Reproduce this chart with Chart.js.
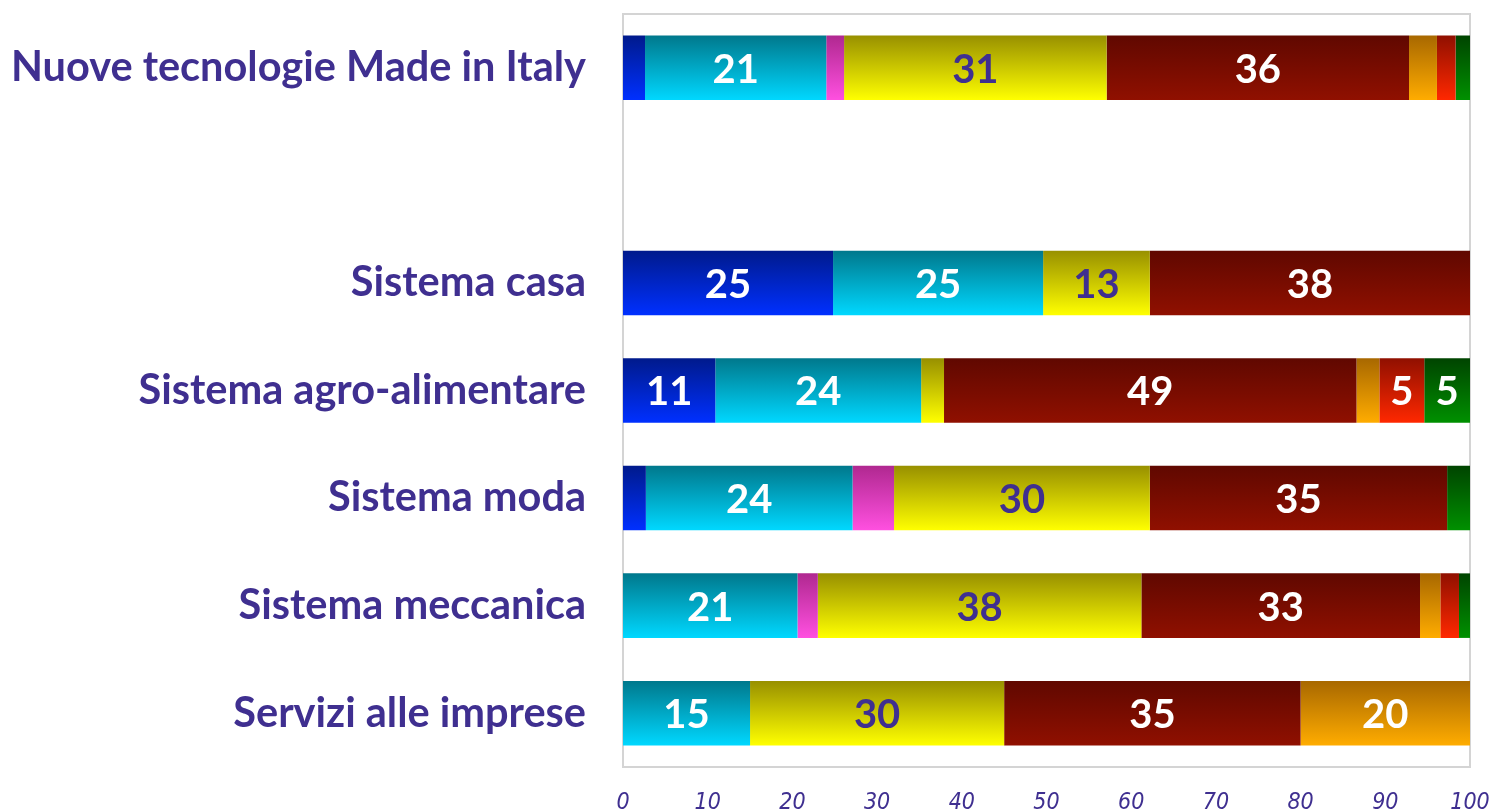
<!DOCTYPE html>
<html>
<head>
<meta charset="utf-8">
<script src="https://cdn.jsdelivr.net/npm/chart.js@4/dist/chart.umd.min.js"></script>
<style>
    html, body { margin: 0; padding: 0; background: #ffffff; }
    #wrap { width: 1494px; height: 812px; }
</style>
</head>
<body>
<div id="wrap"><canvas id="chart" width="1494" height="812"></canvas></div>
<script>
// categories, top to bottom (the empty one is the spacer row)
const categories = [
    "Nuove tecnologie Made in Italy",
    "",
    "Sistema casa",
    "Sistema agro-alimentare",
    "Sistema moda",
    "Sistema meccanica",
    "Servizi alle imprese"
];

// shares (%) per segment, left to right
const blueValues    = [2.6,  null, 24.8, 10.9, 2.7,  0,    0];
const cyanValues    = [21.4, null, 24.8, 24.3, 24.4, 20.6, 15];
const pinkValues    = [2.1,  null, 0,    0,    4.9,  2.4,  0];
const yellowValues  = [31.0, null, 12.6, 2.7,  30.2, 38.2, 30];
const darkRedValues = [35.7, null, 37.8, 48.7, 35.1, 32.9, 35];
const orangeValues  = [3.3,  null, 0,    2.7,  0,    2.4,  20];
const redValues     = [2.2,  null, 0,    5.3,  0,    2.2,  0];
const greenValues   = [1.7,  null, 0,    5.4,  2.7,  1.3,  0];

const xTicks = [0, 10, 20, 30, 40, 50, 60, 70, 80, 90, 100];
const minLabelValue = 5;

const purple = "#3f2f90";

// gradient stops: [top, bottom]
const palette = {
    blue:    ["#001a8c", "#0030ff"],
    cyan:    ["#00788c", "#00d8ff"],
    pink:    ["#b02890", "#ff50e0"],
    yellow:  ["#989000", "#ffff00"],
    darkRed: ["#600800", "#901000"],
    orange:  ["#a86800", "#ffac00"],
    red:     ["#901000", "#ff2800"],
    green:   ["#004400", "#009000"]
};

const barPercentage = 0.6;

function gradientFill(stops) {
    return (ctx) => {
        const chart = ctx.chart;
        const yScale = chart.scales.y;
        if (!chart.chartArea || !yScale || ctx.dataIndex === undefined) return stops[1];
        const slot = (yScale.bottom - yScale.top) / categories.length;
        const yc = yScale.getPixelForValue(ctx.dataIndex);
        const half = slot * barPercentage / 2;
        const g = chart.ctx.createLinearGradient(0, yc - half, 0, yc + half);
        g.addColorStop(0, stops[0]);
        g.addColorStop(1, stops[1]);
        return g;
    };
}

function makeSet(name, values, stops, labelColor) {
    return {
        label: name,
        data: values,
        backgroundColor: gradientFill(stops),
        borderWidth: 0,
        barPercentage: barPercentage,
        categoryPercentage: 1,
        labelColor: labelColor
    };
}

const plotFrame = {
    id: "plotFrame",
    beforeDatasetsDraw(chart) {
        const a = chart.chartArea;
        const c = chart.ctx;
        c.save();
        c.strokeStyle = "#d4d4d4";
        c.lineWidth = 2;
        c.strokeRect(a.left, a.top, a.right - a.left, a.bottom - a.top);
        c.restore();
    }
};

const segmentLabels = {
    id: "segmentLabels",
    afterDatasetsDraw(chart) {
        const c = chart.ctx;
        c.save();
        c.font = "bold 40px Lato";
        c.textAlign = "center";
        c.textBaseline = "middle";
        chart.data.datasets.forEach((ds, i) => {
            const meta = chart.getDatasetMeta(i);
            meta.data.forEach((bar, j) => {
                const v = ds.data[j];
                if (v == null || v < minLabelValue) return;
                c.fillStyle = ds.labelColor;
                c.fillText(String(Math.round(v)), (bar.x + bar.base) / 2, bar.y + 2);
            });
        });
        c.restore();
    }
};

function noOverflow(scale) {
    scale.paddingTop = 0;
    scale.paddingBottom = 0;
    scale.paddingLeft = 0;
    scale.paddingRight = 0;
}

new Chart(document.getElementById("chart"), {
    type: "bar",
    data: {
        labels: categories,
        datasets: [
            makeSet("blue", blueValues, palette.blue, "#ffffff"),
            makeSet("cyan", cyanValues, palette.cyan, "#ffffff"),
            makeSet("pink", pinkValues, palette.pink, "#ffffff"),
            makeSet("yellow", yellowValues, palette.yellow, purple),
            makeSet("darkRed", darkRedValues, palette.darkRed, "#ffffff"),
            makeSet("orange", orangeValues, palette.orange, "#ffffff"),
            makeSet("red", redValues, palette.red, "#ffffff"),
            makeSet("green", greenValues, palette.green, "#ffffff")
        ]
    },
    options: {
        indexAxis: "y",
        responsive: false,
        animation: false,
        layout: { padding: { left: 0, right: 24, top: 14, bottom: 0 } },
        plugins: {
            legend: { display: false },
            tooltip: { enabled: false }
        },
        scales: {
            x: {
                stacked: true,
                min: 0,
                max: 100,
                afterBuildTicks: (scale) => { scale.ticks = xTicks.map(v => ({ value: v })); },
                afterFit: (scale) => { noOverflow(scale); scale.height = 45; },
                grid: { display: false, drawTicks: false },
                border: { display: false },
                ticks: {
                    padding: 22,
                    color: purple,
                    font: { family: "'DejaVu Sans Condensed', 'Liberation Sans'", style: "italic", size: 23 }
                }
            },
            y: {
                stacked: true,
                afterFit: (scale) => { noOverflow(scale); scale.width = 623; },
                grid: { display: false, drawTicks: false },
                border: { display: false },
                ticks: {
                    padding: 37,
                    color: purple,
                    font: { family: "Lato", weight: "bold", size: 41.5 }
                }
            }
        }
    },
    plugins: [plotFrame, segmentLabels]
});
</script>
</body>
</html>
